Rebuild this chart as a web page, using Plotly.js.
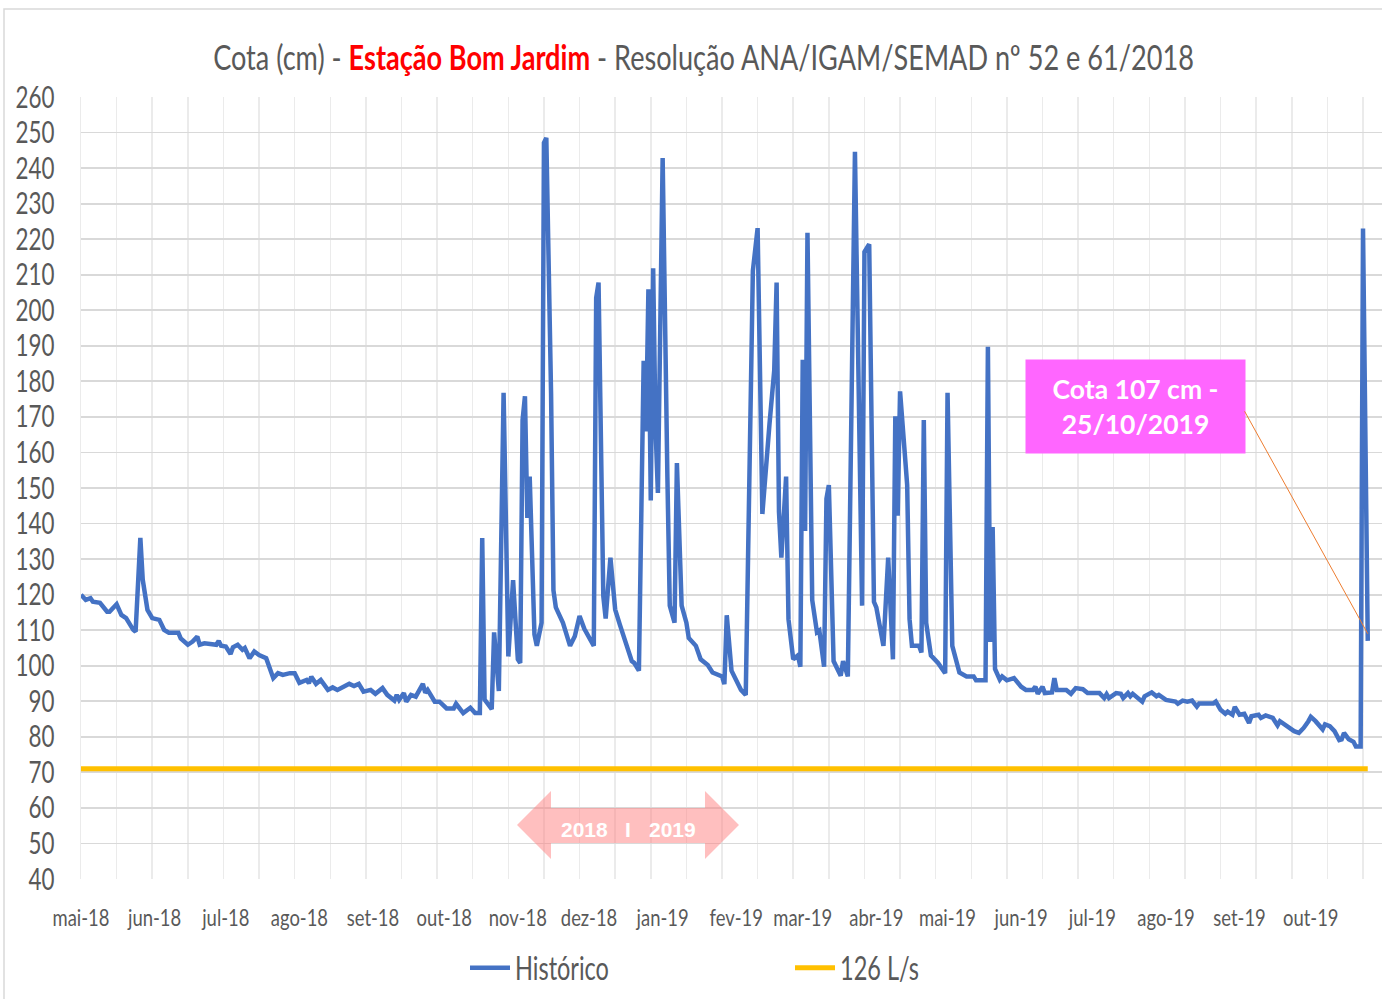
<!DOCTYPE html>
<html><head><meta charset="utf-8">
<script src="https://cdn.plot.ly/plotly-3.0.1.min.js"></script>
<style>html,body{margin:0;padding:0;background:#fff;}#chart{width:1382px;height:999px;}</style>
</head><body><div id="chart"></div>
<script>
// ---- Dados: cota (cm) na Estação Bom Jardim ----
const datas = [
'2018-05-01','2018-05-03','2018-05-05','2018-05-06','2018-05-09','2018-05-12','2018-05-13','2018-05-16','2018-05-18','2018-05-20',
'2018-05-23','2018-05-24','2018-05-26','2018-05-27','2018-05-29','2018-05-31','2018-06-03','2018-06-05','2018-06-07','2018-06-11',
'2018-06-12','2018-06-15','2018-06-17','2018-06-19','2018-06-20','2018-06-22','2018-06-27','2018-06-28','2018-06-29','2018-07-01',
'2018-07-03','2018-07-04','2018-07-06','2018-07-08','2018-07-09','2018-07-11','2018-07-13','2018-07-15','2018-07-18','2018-07-19',
'2018-07-21','2018-07-23','2018-07-25','2018-07-28','2018-07-30','2018-08-01','2018-08-04','2018-08-05','2018-08-06','2018-08-08',
'2018-08-10','2018-08-13','2018-08-15','2018-08-17','2018-08-20','2018-08-22','2018-08-24','2018-08-26','2018-08-28','2018-08-31',
'2018-09-02','2018-09-05','2018-09-07','2018-09-10','2018-09-11','2018-09-12','2018-09-14','2018-09-15','2018-09-17','2018-09-19',
'2018-09-22','2018-09-23','2018-09-24','2018-09-27','2018-09-29','2018-10-02','2018-10-05','2018-10-06','2018-10-09','2018-10-12',
'2018-10-14','2018-10-16','2018-10-17','2018-10-18','2018-10-21','2018-10-22','2018-10-24','2018-10-26','2018-10-28','2018-10-30',
'2018-11-01','2018-11-02','2018-11-03','2018-11-04','2018-11-05','2018-11-06','2018-11-08','2018-11-09','2018-11-11','2018-11-12',
'2018-11-13','2018-11-15','2018-11-16','2018-11-17','2018-11-20','2018-11-23','2018-11-25','2018-11-27','2018-11-29','2018-12-01',
'2018-12-03','2018-12-04','2018-12-05','2018-12-07','2018-12-08','2018-12-10','2018-12-12','2018-12-14','2018-12-17','2018-12-19',
'2018-12-20','2018-12-22','2018-12-24','2018-12-25','2018-12-26','2018-12-27','2018-12-28','2018-12-29','2018-12-30','2019-01-01',
'2019-01-03','2019-01-04','2019-01-06','2019-01-07','2019-01-09','2019-01-11','2019-01-12','2019-01-15','2019-01-17','2019-01-20',
'2019-01-22','2019-01-26','2019-01-27','2019-01-28','2019-01-30','2019-02-01','2019-02-03','2019-02-05','2019-02-08','2019-02-10',
'2019-02-12','2019-02-15','2019-02-17','2019-02-18','2019-02-19','2019-02-20','2019-02-22','2019-02-23','2019-02-25','2019-02-27',
'2019-02-28','2019-03-01','2019-03-02','2019-03-03','2019-03-05','2019-03-07','2019-03-08','2019-03-10','2019-03-11','2019-03-12',
'2019-03-14','2019-03-17','2019-03-18','2019-03-20','2019-03-23','2019-03-26','2019-03-27','2019-03-29','2019-03-31','2019-04-01',
'2019-04-03','2019-04-04','2019-04-06','2019-04-08','2019-04-09','2019-04-10','2019-04-11','2019-04-14','2019-04-15','2019-04-16',
'2019-04-19','2019-04-20','2019-04-21','2019-04-22','2019-04-24','2019-04-27','2019-04-30','2019-05-01','2019-05-03','2019-05-06',
'2019-05-09','2019-05-12','2019-05-13','2019-05-17','2019-05-18','2019-05-19','2019-05-20','2019-05-21','2019-05-23','2019-05-24',
'2019-05-26','2019-05-29','2019-06-01','2019-06-03','2019-06-06','2019-06-07','2019-06-08','2019-06-10','2019-06-11','2019-06-14',
'2019-06-15','2019-06-16','2019-06-20','2019-06-22','2019-06-24','2019-06-27','2019-06-29','2019-07-04','2019-07-06','2019-07-07',
'2019-07-08','2019-07-11','2019-07-13','2019-07-14','2019-07-16','2019-07-17','2019-07-18','2019-07-20','2019-07-22','2019-07-23',
'2019-07-26','2019-07-28','2019-07-29','2019-08-01','2019-08-05','2019-08-06','2019-08-08','2019-08-10','2019-08-12','2019-08-14',
'2019-08-15','2019-08-21','2019-08-22','2019-08-24','2019-08-26','2019-08-27','2019-08-29','2019-08-30','2019-09-01','2019-09-03',
'2019-09-05','2019-09-06','2019-09-09','2019-09-10','2019-09-12','2019-09-15','2019-09-17','2019-09-18','2019-09-22','2019-09-24',
'2019-09-26','2019-09-28','2019-09-30','2019-10-01','2019-10-03','2019-10-06','2019-10-07','2019-10-09','2019-10-11','2019-10-13',
'2019-10-14','2019-10-15','2019-10-17','2019-10-19','2019-10-20','2019-10-22','2019-10-23','2019-10-25'
];
const cota = [
120,118.5,119,118,117.7,115.2,115.2,117.3,114.3,113.4,
110.1,109.6,136,124.2,115.7,113.4,112.9,110.1,109.3,109.3,
107.7,105.9,106.8,108.2,105.9,106.3,105.9,107,105.6,105.4,
103.3,105.2,105.9,104.5,105,102.1,104,103,102.1,100.2,
96.5,97.9,97.4,97.9,97.9,95.2,96,95.1,96.9,94.9,
96,93.2,93.9,93.2,94.1,94.9,94.3,94.9,92.7,93.2,
92.1,93.7,91.8,90.2,91.8,90.4,92.3,89.9,91.8,91.3,
94.9,92.4,93.2,89.9,89.9,88,88,89.3,86.7,88.2,
86.7,86.7,135.9,90.5,87.8,109.4,92.9,176.8,102.6,124.1,
101.8,100.8,169.1,175.8,141.6,153.2,108.8,105.6,112.1,247.1,
248.5,176.6,121.2,116.4,112.1,105.6,108.3,114,110.4,107.8,
105.6,203.5,207.8,119.6,113.3,130.4,115.8,111.5,105.6,101.3,
100.8,98.6,185.8,165.9,205.9,146.5,211.8,166.9,148.6,242.8,
153,116.9,112.1,157,116.9,112.1,107.8,105.6,101.8,100.2,
98.1,97,94.8,114.2,98.6,95.9,93.2,91.8,211.1,223.1,
142.7,168,183.1,207.8,143.3,130.4,153.2,113.1,101.8,102.9,
99.7,186.1,137.9,221.8,118.5,109.4,109.9,99.7,147,150.8,
101.3,97.2,101.3,97,244.6,116.9,216.4,218.6,118,116.4,
108.8,105.6,130.4,101.8,170.2,142.2,177.2,150.8,113.1,105.6,
105.6,103.7,169.1,112.1,102.9,100.8,97.9,176.8,105.6,98.1,
97,97,95.9,95.9,189.7,106.7,139,99.1,96.1,97,
95.9,96.5,94.1,93.2,93.2,94.1,92.1,94.1,92.3,92.5,
96.5,93.2,93.2,92.1,93.7,93.4,92.3,92.3,90.9,92,
90.9,92.3,92.1,90.9,92.3,91.4,92.1,90.9,89.9,91.4,
92.5,91.4,91.8,90.4,89.9,89.3,90.2,89.9,90.2,88.5,
89.4,89.4,89.9,87.6,86.5,87.1,86.2,88.4,86.2,86.5,
83.9,85.8,86.2,85.3,86,85.3,83.2,84.4,82.5,81.6,
81.1,82.5,84.4,85.6,84.4,82.1,83.5,83,81.6,79.1,
79.3,81.1,79.3,78.6,77.3,77.3,223,107
];
// Cota de referência 126 L/s
const limiteDatas = ['2018-05-01','2019-10-25'];
const limiteCota = [71, 71];
// Rótulos do eixo X
const mesesTick = ['2018-05-01','2018-06-01','2018-07-01','2018-08-01','2018-09-01','2018-10-01','2018-11-01','2018-12-01',
  '2019-01-01','2019-02-01','2019-03-01','2019-04-01','2019-05-01','2019-06-01','2019-07-01','2019-08-01','2019-09-01','2019-10-01'];
const mesesRotulo = ['mai-18','jun-18','jul-18','ago-18','set-18','out-18','nov-18','dez-18',
  'jan-19','fev-19','mar-19','abr-19','mai-19','jun-19','jul-19','ago-19','set-19','out-19'];
const yTicks = [40,50,60,70,80,90,100,110,120,130,140,150,160,170,180,190,200,210,220,230,240,250,260];

const TITLE_HTML = 'Cota (cm) - <b><span style="color:#FF0000">Estação Bom Jardim</span></b> - Resolução ANA/IGAM/SEMAD nº 52 e 61/2018';

// ---- Fonts: Lato drawn tall, then narrowed to the reference widths ----
const FAM = 'Lato';
function measure(html, family, size, weight) {
  const s = document.createElement('span');
  s.style.cssText = 'position:absolute;left:0;top:0;visibility:hidden;white-space:nowrap;' +
    'font-family:' + family + ';font-size:' + size + 'px;font-weight:' + weight + ';';
  s.innerHTML = html;
  document.body.appendChild(s);
  const w = s.getBoundingClientRect().width;
  s.remove();
  return w;
}
const fit = (html, target, weight) => 100 * target / measure(html, FAM, 100, weight || 400);
const TXT = {
  title: {big: 35, fit: fit(TITLE_HTML, 981)},
  y:     {big: 30, fit: fit('260', 39)},
  x:     {big: 24, fit: fit('mai-18', 57)},
  leg:   {big: 32, fit: fit('Histórico', 94)}
};
const boxSize = fit('<b>Cota 107 cm -</b>', 166, 700);

// ---- Layout helpers (pixel -> paper) ----
const L = 81, T = 97, W = 1301, H = 782;
const PX = p => (p - L) / W;
const PY = p => (T + H - p) / H;
const SANS = "'Liberation Sans', Arial, sans-serif";
const GREY = '#595959';

const arrowPts = [[517,825],[551,791],[551,808],[705,808],[705,791],[739,825],[705,859],[705,843],[551,843],[551,859]];
const arrowPath = 'M' + arrowPts.map(p => PX(p[0]).toFixed(5) + ',' + PY(p[1]).toFixed(5)).join(' L') + ' Z';

const traces = [
  {x: datas, y: cota, type: 'scatter', mode: 'lines', name: 'Histórico',
   line: {color: '#4472C4', width: 4.5}},
  {x: limiteDatas, y: limiteCota, type: 'scatter', mode: 'lines', name: '126 L/s',
   line: {color: '#FFC000', width: 5}}
];

const layout = {
  width: 1382, height: 999,
  margin: {l: L, r: 1382 - L - W, t: T, b: 999 - T - H, pad: 0},
  paper_bgcolor: '#ffffff', plot_bgcolor: '#ffffff',
  font: {family: FAM, color: GREY},
  title: {
    text: TITLE_HTML,
    font: {family: FAM, size: TXT.title.big, color: GREY},
    xref: 'container', yref: 'container', x: 703.5 / 1382, y: 1 - 58 / 999,
    xanchor: 'center', yanchor: 'middle'
  },
  xaxis: {
    type: 'date', range: ['2018-05-01', '2019-10-31'],
    tickmode: 'array', tickvals: mesesTick, ticktext: mesesRotulo, tickangle: 0,
    showgrid: false, zeroline: false, showline: false, ticks: '',
    tickfont: {family: FAM, size: TXT.x.big, color: GREY},
    ticklabelstandoff: 22,
    minor: {tickmode: 'linear', tick0: '2018-05-01', dtick: 15 * 86400000,
            showgrid: true, gridcolor: '#EBEBEB', gridwidth: 1.5, ticks: ''}
  },
  yaxis: {
    range: [40, 260], tickmode: 'array', tickvals: yTicks,
    showgrid: true, gridcolor: '#D9D9D9', gridwidth: 1.8, zeroline: false,
    showline: true, linecolor: '#EBEBEB', linewidth: 1.5, ticks: '',
    tickfont: {family: FAM, size: TXT.y.big, color: GREY},
    ticklabelstandoff: 19
  },
  showlegend: true,
  legend: {
    orientation: 'h', x: PX(465), y: PY(968), xanchor: 'left', yanchor: 'middle',
    entrywidth: 270, entrywidthmode: 'pixels', itemwidth: 40,
    font: {family: FAM, size: TXT.leg.big, color: GREY}, bgcolor: 'rgba(0,0,0,0)'
  },
  shapes: [
    {type: 'rect', xref: 'paper', yref: 'paper', x0: PX(4), x1: PX(1420), y0: PY(9), y1: PY(1040),
     line: {color: '#D9D9D9', width: 1.5}, fillcolor: 'rgba(0,0,0,0)', layer: 'below'},
    {type: 'path', xref: 'paper', yref: 'paper', path: arrowPath,
     fillcolor: 'rgba(255,128,128,0.5)', line: {width: 0}, layer: 'above'}
  ],
  annotations: [
    {xref: 'paper', yref: 'paper', x: PX(1135.5), y: PY(406.5), xanchor: 'center', yanchor: 'middle',
     text: '<b>Cota 107 cm -<br>25/10/2019</b>', showarrow: false, align: 'center',
     width: 219, height: 93, bgcolor: '#FF66FF', borderpad: 0,
     font: {family: FAM, size: boxSize, color: '#FFFFFF'}},
    {x: '2019-10-25', y: 109, xref: 'x', yref: 'y', text: '', showarrow: true,
     ax: -124, ay: -224, arrowhead: 0, arrowwidth: 1, arrowcolor: '#ED7D31', standoff: 0, startstandoff: 0},
    {xref: 'paper', yref: 'paper', x: PX(584), y: PY(829), text: '<b>2018</b>', showarrow: false,
     font: {family: SANS, size: 21, color: '#FFFFFF'}, xanchor: 'center', yanchor: 'middle'},
    {xref: 'paper', yref: 'paper', x: PX(628), y: PY(829), text: '<b>I</b>', showarrow: false,
     font: {family: SANS, size: 21, color: '#FFFFFF'}, xanchor: 'center', yanchor: 'middle'},
    {xref: 'paper', yref: 'paper', x: PX(672), y: PY(829), text: '<b>2019</b>', showarrow: false,
     font: {family: SANS, size: 21, color: '#FFFFFF'}, xanchor: 'center', yanchor: 'middle'}
  ]
};

// Narrow each text horizontally around its own anchor point (keeps glyph height)
function squeeze(sel, spec) {
  const r = Math.min(1, spec.fit / spec.big);
  if (r >= 1) return;
  document.querySelectorAll(sel).forEach(t => {
    const x0 = parseFloat(t.getAttribute('x')) || 0;
    const ex = t.getAttribute('transform') || '';
    t.setAttribute('transform',
      (ex + ' translate(' + x0 + ',0) scale(' + r.toFixed(4) + ',1) translate(' + (-x0) + ',0)').trim());
  });
}

Plotly.newPlot('chart', traces, layout, {staticPlot: true, displayModeBar: false}).then(() => {
  squeeze('#chart .gtitle', TXT.title);
  squeeze('#chart .ytick text', TXT.y);
  squeeze('#chart .xtick text', TXT.x);
  squeeze('#chart .legendtext', TXT.leg);
});
</script></body></html>
